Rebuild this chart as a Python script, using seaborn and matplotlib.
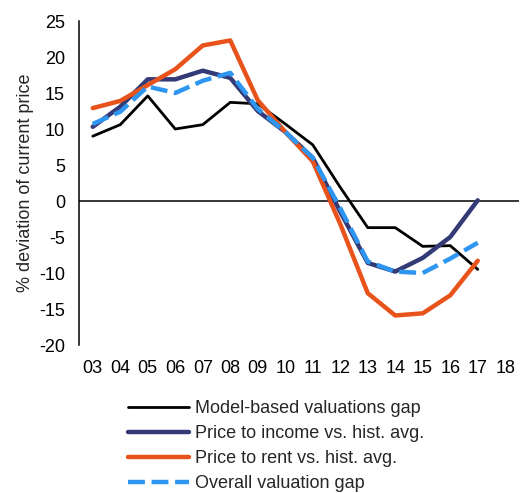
import numpy as np
import pandas as pd
import matplotlib
matplotlib.use("Agg")
import matplotlib.pyplot as plt
import seaborn as sns

YEARS = ["03", "04", "05", "06", "07", "08", "09", "10", "11", "12",
         "13", "14", "15", "16", "17", "18"]

model_gap = [9.0, 10.6, 14.6, 10.0, 10.6, 13.7, 13.5, 10.7, 7.8, 1.9,
             -3.7, -3.7, -6.3, -6.2, -9.5, np.nan]
price_income = [10.3, 13.1, 16.9, 16.9, 18.1, 17.1, 12.5, 9.6, 6.0, -1.5,
                -8.6, -9.8, -7.9, -5.0, 0.1, np.nan]
price_rent = [12.9, 13.9, 16.1, 18.3, 21.6, 22.3, 14.0, 9.6, 5.5, -3.2,
              -12.8, -15.9, -15.6, -13.1, -8.3, np.nan]
overall_gap = [10.7, 12.4, 15.9, 15.0, 16.7, 17.8, 12.8, 9.6, 6.0, -1.0,
               -8.4, -9.8, -10.0, -8.0, -5.8, np.nan]

SERIES = ["Model-based valuations gap", "Price to income vs. hist. avg.",
          "Price to rent vs. hist. avg.", "Overall valuation gap"]
COLORS = ["#000000", "#343A76", "#E8531C", "#2E96F0"]
WIDTHS = [2.0, 3.2, 3.2, 3.2]

sns.set_style("white")
plt.rcParams["font.family"] = ["Liberation Sans", "DejaVu Sans"]
plt.rcParams["axes.unicode_minus"] = False

df = pd.DataFrame({"x": np.arange(len(YEARS))})
for name, vals in zip(SERIES, [model_gap, price_income, price_rent, overall_gap]):
    df[name] = vals

fig = plt.figure(figsize=(5.2, 4.93), dpi=100)
ax = fig.add_axes([79 / 520, 1 - 345 / 493, 440 / 520, (345 - 21) / 493])

ax.axhline(0, color="black", linewidth=1.1, zorder=1)

for name, col, lw in zip(SERIES, COLORS, WIDTHS):
    style = (0, (3.8, 1.5)) if name == "Overall valuation gap" else "-"
    sns.lineplot(data=df, x="x", y=name, ax=ax, color=col, linewidth=lw,
                 linestyle=style, label=name, legend=False, zorder=2)

ax.set_xlim(-0.5, len(YEARS) - 0.5)
ax.set_ylim(-20, 25)
ax.set_xticks(np.arange(len(YEARS)))
ax.set_xticklabels(YEARS)
ax.set_yticks(np.arange(-20, 26, 5))
ax.tick_params(axis="both", length=0, labelsize=13, colors="black")
ax.tick_params(axis="x", pad=11)
ax.tick_params(axis="y", pad=10)
ax.set_xlabel("")
ax.set_ylabel("% deviation of current price", fontsize=13, labelpad=4)

for s in ["top", "right", "bottom"]:
    ax.spines[s].set_visible(False)
ax.spines["left"].set_color("black")
ax.spines["left"].set_linewidth(1.1)

handles, labels = ax.get_legend_handles_labels()
fig.legend(handles, labels, loc="upper left",
           bbox_to_anchor=(128 / 520, 1 - 400 / 493), frameon=False,
           fontsize=13, handlelength=3.4, handletextpad=0.3,
           labelspacing=0.45, borderpad=0, borderaxespad=0)

fig.savefig("out.png", dpi=100)
